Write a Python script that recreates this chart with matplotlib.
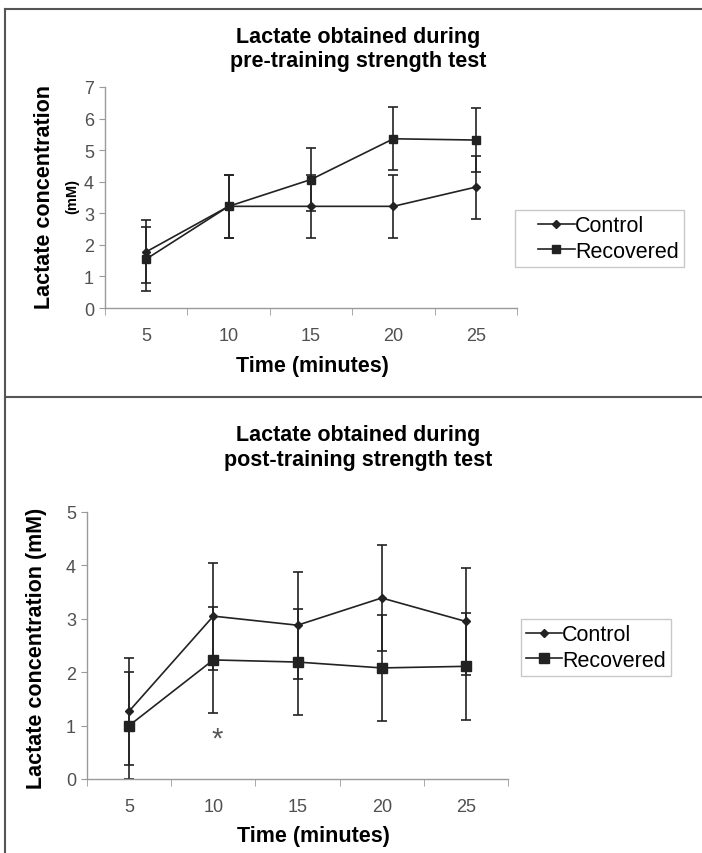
import numpy as np
import matplotlib
matplotlib.use('Agg')
import matplotlib.pyplot as plt
from matplotlib.lines import Line2D
from matplotlib.legend_handler import HandlerLine2D

plt.rcParams['font.family'] = ['Liberation Sans', 'DejaVu Sans']

# values (mM), error bars are +/- 1 SD
times = ['5', '10', '15', '20', '25']
pre_control = [1.78, 3.22, 3.22, 3.22, 3.83]
pre_recovered = [1.55, 3.22, 4.07, 5.36, 5.32]
pre_control_err = [1.0, 1.0, 1.0, 1.0, 1.0]
pre_recovered_err = [1.0, 1.0, 1.0, 1.0, 1.0]
post_control = [1.27, 3.05, 2.88, 3.39, 2.95]
post_recovered = [1.00, 2.23, 2.19, 2.08, 2.11]
post_control_err = [1.0, 1.0, 1.0, 1.0, 1.0]
post_recovered_err = [1.0, 1.0, 1.0, 1.0, 1.0]

W, H = 702, 854
dark = '#222222'
axis_gray = '#9a9a9a'
label_gray = '#505050'


def fx(px):
    return px / W


def fy(py):
    return 1 - py / H


def draw_panel(ax, control, recovered, c_err, r_err, ymax, sq_size, legend_xy, hlen, hpad):
    x = np.arange(len(times))
    ax.errorbar(x, control, yerr=c_err, fmt='none', ecolor=dark, elinewidth=1.2,
                capsize=3.5, capthick=1.2, zorder=2)
    ax.errorbar(x, recovered, yerr=r_err, fmt='none', ecolor=dark, elinewidth=1.2,
                capsize=3.5, capthick=1.2, zorder=2)
    ax.plot(x, control, color=dark, lw=1.2, marker='D', ms=4, label='Control', zorder=3)
    ax.plot(x, recovered, color=dark, lw=1.2, marker='s', ms=sq_size, label='Recovered', zorder=4)

    ax.set_xlim(-0.5, len(times) - 0.5)
    ax.set_ylim(0, ymax)
    ax.set_yticks(range(ymax + 1))
    ax.set_xticks(x)
    ax.set_xticklabels(times)
    ax.set_xticks(np.arange(-0.5, len(times), 1), minor=True)
    ax.tick_params(axis='x', which='major', length=0, pad=14, labelsize=13, labelcolor=label_gray)
    ax.tick_params(axis='x', which='minor', length=5, color=axis_gray, direction='out')
    ax.tick_params(axis='y', length=4, color=axis_gray, labelsize=13, labelcolor=label_gray, pad=4)
    for s in ['top', 'right']:
        ax.spines[s].set_visible(False)
    for s in ['left', 'bottom']:
        ax.spines[s].set_color(axis_gray)
        ax.spines[s].set_linewidth(1)

    leg = ax.legend(loc='upper left', bbox_to_anchor=legend_xy, bbox_transform=fig.transFigure,
                    fontsize=15.5, frameon=True, fancybox=False, handlelength=hlen,
                    handletextpad=0.0, borderpad=0.25, labelspacing=0.2, borderaxespad=0,
                    handler_map={Line2D: HandlerLine2D(xpad=hpad)})
    leg.get_frame().set_edgecolor('#bbbbbb')
    leg.get_frame().set_linewidth(1)
    return ax


fig = plt.figure(figsize=(W / 100, H / 100), dpi=100)

# top panel: pre-training
ax1 = fig.add_axes([fx(105), fy(309), fx(517) - fx(105), fy(88) - fy(309)])
draw_panel(ax1, pre_control, pre_recovered, pre_control_err, pre_recovered_err, 7, 6,
           (fx(515), fy(211)), 2.55, 0.8)
fig.text(fx(358), fy(49.5), 'Lactate obtained during\npre-training strength test',
         ha='center', va='center', fontsize=15.5, fontweight='bold', linespacing=1.25)
fig.text(fx(45), fy(197), 'Lactate concentration', rotation=90, ha='center', va='center',
         fontsize=15.5, fontweight='bold')
fig.text(fx(72), fy(197), '(mM)', rotation=90, ha='center', va='center',
         fontsize=10.5, fontweight='bold')
fig.text(fx(312), fy(367), 'Time (minutes)', ha='center', va='center',
         fontsize=15.5, fontweight='bold')

# bottom panel: post-training
ax2 = fig.add_axes([fx(87), fy(780), fx(508) - fx(87), fy(513) - fy(780)])
draw_panel(ax2, post_control, post_recovered, post_control_err, post_recovered_err, 5, 7,
           (fx(521), fy(620)), 1.65, 0.0)
ax2.text(1.05, 0.76, '*', ha='center', va='center', fontsize=21, color='#555555')
fig.text(fx(358), fy(448.5), 'Lactate obtained during\npost-training strength test',
         ha='center', va='center', fontsize=15.5, fontweight='bold', linespacing=1.25)
fig.text(fx(37), fy(648), 'Lactate concentration (mM)', rotation=90, ha='center', va='center',
         fontsize=15.5, fontweight='bold')
fig.text(fx(313), fy(837), 'Time (minutes)', ha='center', va='center',
         fontsize=15.5, fontweight='bold')

# panel frame lines
for xs, ys in [([fx(5), 1], [fy(10), fy(10)]),
               ([fx(5), fx(5)], [fy(10), 0]),
               ([fx(5), 1], [fy(398), fy(398)])]:
    fig.add_artist(Line2D(xs, ys, transform=fig.transFigure, color='#555555', lw=1.5))

fig.savefig('out.png', dpi=100)
